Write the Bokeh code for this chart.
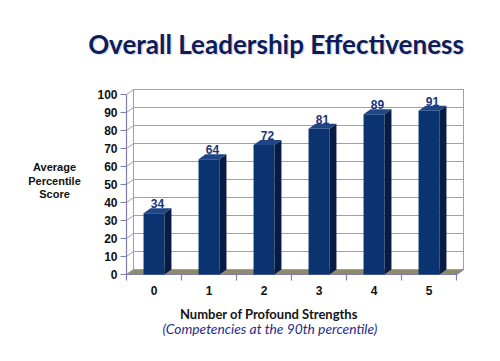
import numpy as np
from bokeh.plotting import figure
from bokeh.models import FixedTicker, Range1d
from bokeh.embed import file_html
from bokeh.resources import INLINE
from bokeh.core.properties import value

# ---- data ----
categories = ["0", "1", "2", "3", "4", "5"]
scores = [34, 64, 72, 81, 89, 91]
y_ticks = [0, 10, 20, 30, 40, 50, 60, 70, 80, 90, 100]

title_text = "Overall Leadership Effectiveness"
y_label_lines = ["Average", "Percentile", "Score"]
x_title1 = "Number of  Profound Strengths"
x_title2 = "(Competencies at the 90th percentile)"

# ---- styling / geometry ----
W, H = 496, 356
X0_PX, UNIT_X = 126.0, 55.0    # pixel of x=-0.5, pixels per category
Y0_PX, UNIT_Y = 274.0, 1.8     # pixel of y=0, pixels per score unit


def px2x(px):
    return -0.5 + (px - X0_PX) / UNIT_X


def py2y(py):
    return (Y0_PX - py) / UNIT_Y


DX = 7 / UNIT_X   # depth offset (x)
DY = 5 / UNIT_Y   # depth offset (y)
HALF = 0.19       # half bar width
FRONT = "#0A3370"
SIDE = "#061C44"
TOP = "#1E4585"
GRID = "#9C9CCB"
AXIS = "#7F7FA8"
FLOOR = "#8F8A6A"
NAVY_LABEL = "#1B3478"
TITLE_C = "#0E1D5A"

xs = np.arange(len(categories), dtype=float)
vals = np.array(scores, dtype=float)
n = len(categories)
lo, hi = -0.5, n - 0.5

p = figure(width=W, height=H, output_backend="svg", toolbar_location=None,
           x_range=Range1d(px2x(0), px2x(W)), y_range=Range1d(py2y(H), py2y(0)),
           min_border=0)
p.outline_line_color = None
p.xgrid.visible = False
p.ygrid.visible = False
p.background_fill_color = "white"
p.border_fill_color = "white"

# back wall
p.quad(left=[lo + DX], right=[hi + DX], bottom=[DY], top=[100 + DY],
       fill_color="white", line_color=GRID, line_width=1)
gy = [v + DY for v in y_ticks[1:]]
p.segment(x0=[lo + DX] * len(gy), y0=gy, x1=[hi + DX] * len(gy), y1=gy,
          line_color=GRID, line_width=1)
# left wall diagonals + back edge
p.segment(x0=[lo] * len(y_ticks), y0=y_ticks, x1=[lo + DX] * len(y_ticks),
          y1=[v + DY for v in y_ticks], line_color=GRID, line_width=1)
p.segment(x0=[lo + DX], y0=[DY], x1=[lo + DX], y1=[100 + DY],
          line_color=GRID, line_width=1)
# floor
p.patch(x=[lo, hi, hi + DX, lo + DX], y=[0, 0, DY, DY],
        fill_color=FLOOR, line_color=GRID, line_width=1)

# front axis lines and category boundary ticks
p.segment(x0=[lo], y0=[0], x1=[lo], y1=[100], line_color=AXIS, line_width=1.2)
p.segment(x0=[lo, hi], y0=[0, 0], x1=[hi, hi + DX], y1=[0, DY],
          line_color=AXIS, line_width=1.2)
bnd = np.arange(n + 1) - 0.5
p.segment(x0=bnd, y0=[0] * len(bnd), x1=bnd, y1=[-6 / UNIT_Y] * len(bnd),
          line_color=AXIS, line_width=1.2)

# bars: front, side, top
p.quad(left=xs - HALF, right=xs + HALF, bottom=0, top=vals,
       fill_color=FRONT, line_color=None)
side_x = [[x + HALF, x + HALF + DX, x + HALF + DX, x + HALF] for x in xs]
side_y = [[0, DY, v + DY, v] for v in vals]
p.patches(xs=side_x, ys=side_y, fill_color=SIDE, line_color=None)
top_x = [[x - HALF, x - HALF + DX, x + HALF + DX, x + HALF] for x in xs]
top_y = [[v, v + DY, v + DY, v] for v in vals]
p.patches(xs=top_x, ys=top_y, fill_color=TOP, line_color=None)

# value labels
p.text(x=xs + DX / 2, y=vals + DY + 2.6, text=[str(s) for s in scores],
       text_align="center", text_baseline="alphabetic",
       text_font=value("Liberation Sans"), text_font_style="bold",
       text_font_size="12px", text_color=NAVY_LABEL)

# y axis (fixed at the front-left edge)
ya = p.yaxis[0]
ya.fixed_location = lo
ya.ticker = FixedTicker(ticks=y_ticks)
ya.axis_line_color = None
ya.major_tick_line_color = AXIS
ya.major_tick_line_width = 1.2
ya.major_tick_out = 6
ya.major_tick_in = 0
ya.minor_tick_line_color = None
ya.major_label_standoff = 3
ya.major_label_text_font = "Liberation Sans"
ya.major_label_text_font_style = "bold"
ya.major_label_text_font_size = "12px"
ya.major_label_text_color = "#111111"

# x axis (fixed at y = 0)
xa = p.xaxis[0]
xa.fixed_location = 0
xa.ticker = FixedTicker(ticks=list(range(n)))
xa.major_label_overrides = {i: c for i, c in enumerate(categories)}
xa.axis_line_color = None
xa.major_tick_line_color = None
xa.minor_tick_line_color = None
xa.major_tick_out = 0
xa.major_tick_in = 0
xa.major_label_standoff = 11
xa.major_label_text_font = "Liberation Sans"
xa.major_label_text_font_style = "bold"
xa.major_label_text_font_size = "12px"
xa.major_label_text_color = "#111111"

# y label (three centred lines)
p.text(x=[px2x(54)] * 3, y=[py2y(166.5), py2y(180), py2y(193.5)], text=y_label_lines,
       text_align="center", text_baseline="middle",
       text_font=value("Liberation Sans"), text_font_style="bold",
       text_font_size="11px", text_color="#111111")

# x axis titles
p.text(x=[px2x(270)], y=[py2y(313)], text=[x_title1], text_align="center",
       text_baseline="alphabetic", text_font=value("Lato"), text_font_style="bold",
       text_font_size="13px", text_color="#151515")
p.text(x=[px2x(269.5)], y=[py2y(328)], text=[x_title2], text_align="center",
       text_baseline="alphabetic", text_font=value("Lato"), text_font_style="italic",
       text_font_size="13.8px", text_color="#1F2E8C")

# main title with soft shadow
p.text(x=[px2x(277)], y=[py2y(44.5)], text=[title_text], text_align="center",
       text_baseline="alphabetic", text_font=value("Lato"), text_font_style="bold",
       text_font_size="26px", text_color="#9CA0B0", text_alpha=0.35)
p.text(x=[px2x(275.5)], y=[py2y(43)], text=[title_text], text_align="center",
       text_baseline="alphabetic", text_font=value("Lato"), text_font_style="bold",
       text_font_size="26px", text_color=TITLE_C)

open("out.html", "w").write(file_html(p, INLINE))
